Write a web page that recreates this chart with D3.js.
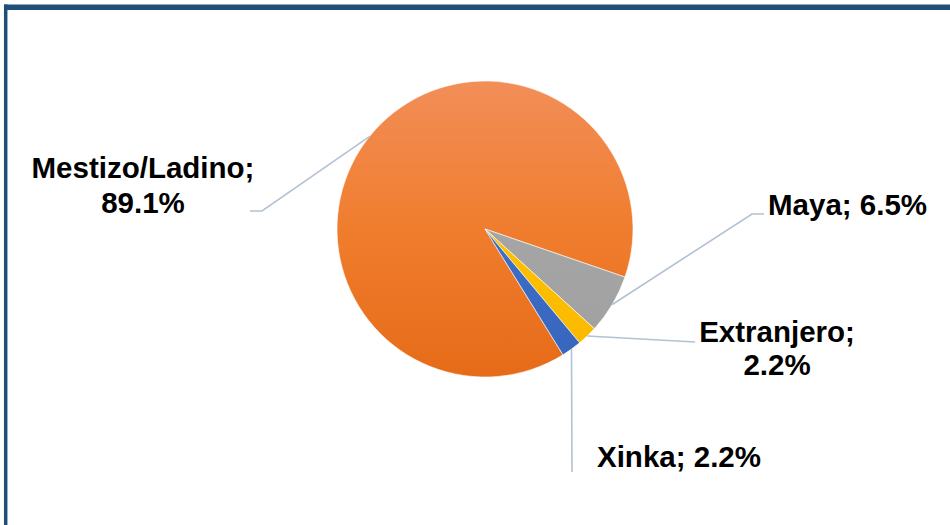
<!DOCTYPE html>
<html>
<head>
<meta charset="utf-8">
<script src="https://cdn.jsdelivr.net/npm/d3@7"></script>
<style>
  body { margin: 0; background: #fff; }
  svg { display: block; }
</style>
</head>
<body>
<div id="container"></div>
<script>
// data
const categories = ["Mestizo/Ladino", "Maya", "Extranjero", "Xinka"];
const shares = [89.1, 6.5, 2.2, 2.2];
const sliceColors = [
  ["#F28E58", "#F07D2E", "#E66B18"],
  ["#A8A8A8", "#A5A5A5", "#A0A0A0"],
  ["#FFC300", "#FFC000", "#F8B800"],
  ["#4676C8", "#3F6EC5", "#3565BE"]
];

const width = 950, height = 525;
const cx = 485, cy = 229, r = 148;
const firstAngle = 148.2 * Math.PI / 180;

// label layout: elbow points and text positions
const labelLayout = [
  {pts: [[262, 211], [250, 211]], x: 143, y: [178, 213], anchor: "middle", split: true},
  {pts: [[752, 214], [764, 214]], x: 768, y: [215], anchor: "start", split: false},
  {pts: [[695, 342]], x: 777, y: [342, 375], anchor: "middle", split: true},
  {pts: [[572, 472]], x: 597, y: [467], anchor: "start", split: false}
];

const svg = d3.select("#container").append("svg")
  .attr("width", width)
  .attr("height", height);

// frame
svg.append("line").attr("x1", 5.7).attr("x2", 5.7).attr("y1", 4.5).attr("y2", height)
  .attr("stroke", "#1F4E79").attr("stroke-width", 3.5);
svg.append("line").attr("x1", 4).attr("x2", width).attr("y1", 7.2).attr("y2", 7.2)
  .attr("stroke", "#1F4E79").attr("stroke-width", 5.5);

// vertical gradients, in the slices' own (translated) coordinates
const defs = svg.append("defs");
sliceColors.forEach((c, i) => {
  const grad = defs.append("linearGradient")
    .attr("id", "grad" + i)
    .attr("gradientUnits", "userSpaceOnUse")
    .attr("x1", 0).attr("x2", 0)
    .attr("y1", -r).attr("y2", r);
  grad.append("stop").attr("offset", "0%").attr("stop-color", c[0]);
  grad.append("stop").attr("offset", "50%").attr("stop-color", c[1]);
  grad.append("stop").attr("offset", "100%").attr("stop-color", c[2]);
});

const pie = d3.pie().sort(null)
  .startAngle(firstAngle)
  .endAngle(firstAngle + 2 * Math.PI);
const arcs = pie(shares);
const arc = d3.arc().innerRadius(0).outerRadius(r);
const edge = d3.arc().innerRadius(r).outerRadius(r);

svg.append("g")
  .attr("transform", `translate(${cx},${cy})`)
  .selectAll("path.slice")
  .data(arcs)
  .enter()
  .append("path")
  .attr("class", "slice")
  .attr("d", arc)
  .attr("fill", (d, i) => `url(#grad${i})`)
  .attr("stroke", "#fff")
  .attr("stroke-width", 0.6);

// leader lines
arcs.forEach((d, i) => {
  const s = edge.centroid(d);
  const pts = [[cx + s[0], cy + s[1]]].concat(labelLayout[i].pts);
  svg.append("path")
    .attr("d", d3.line()(pts))
    .attr("fill", "none")
    .attr("stroke", "#B4C1D2")
    .attr("stroke-width", 1.6);
});

// labels
const fmt = d3.format(".1f");
arcs.forEach((d, i) => {
  const L = labelLayout[i];
  const first = categories[i] + ";";
  const second = fmt(shares[i]) + "%";
  const lines = L.split ? [first, second] : [first + " " + second];
  lines.forEach((t, j) => {
    svg.append("text")
      .attr("x", L.x)
      .attr("y", L.y[j])
      .attr("text-anchor", L.anchor)
      .style("font-family", "'Liberation Sans', Arial, sans-serif")
      .style("font-weight", "bold")
      .style("font-size", "29.5px")
      .attr("fill", "#000")
      .text(t);
  });
});
</script>
</body>
</html>
